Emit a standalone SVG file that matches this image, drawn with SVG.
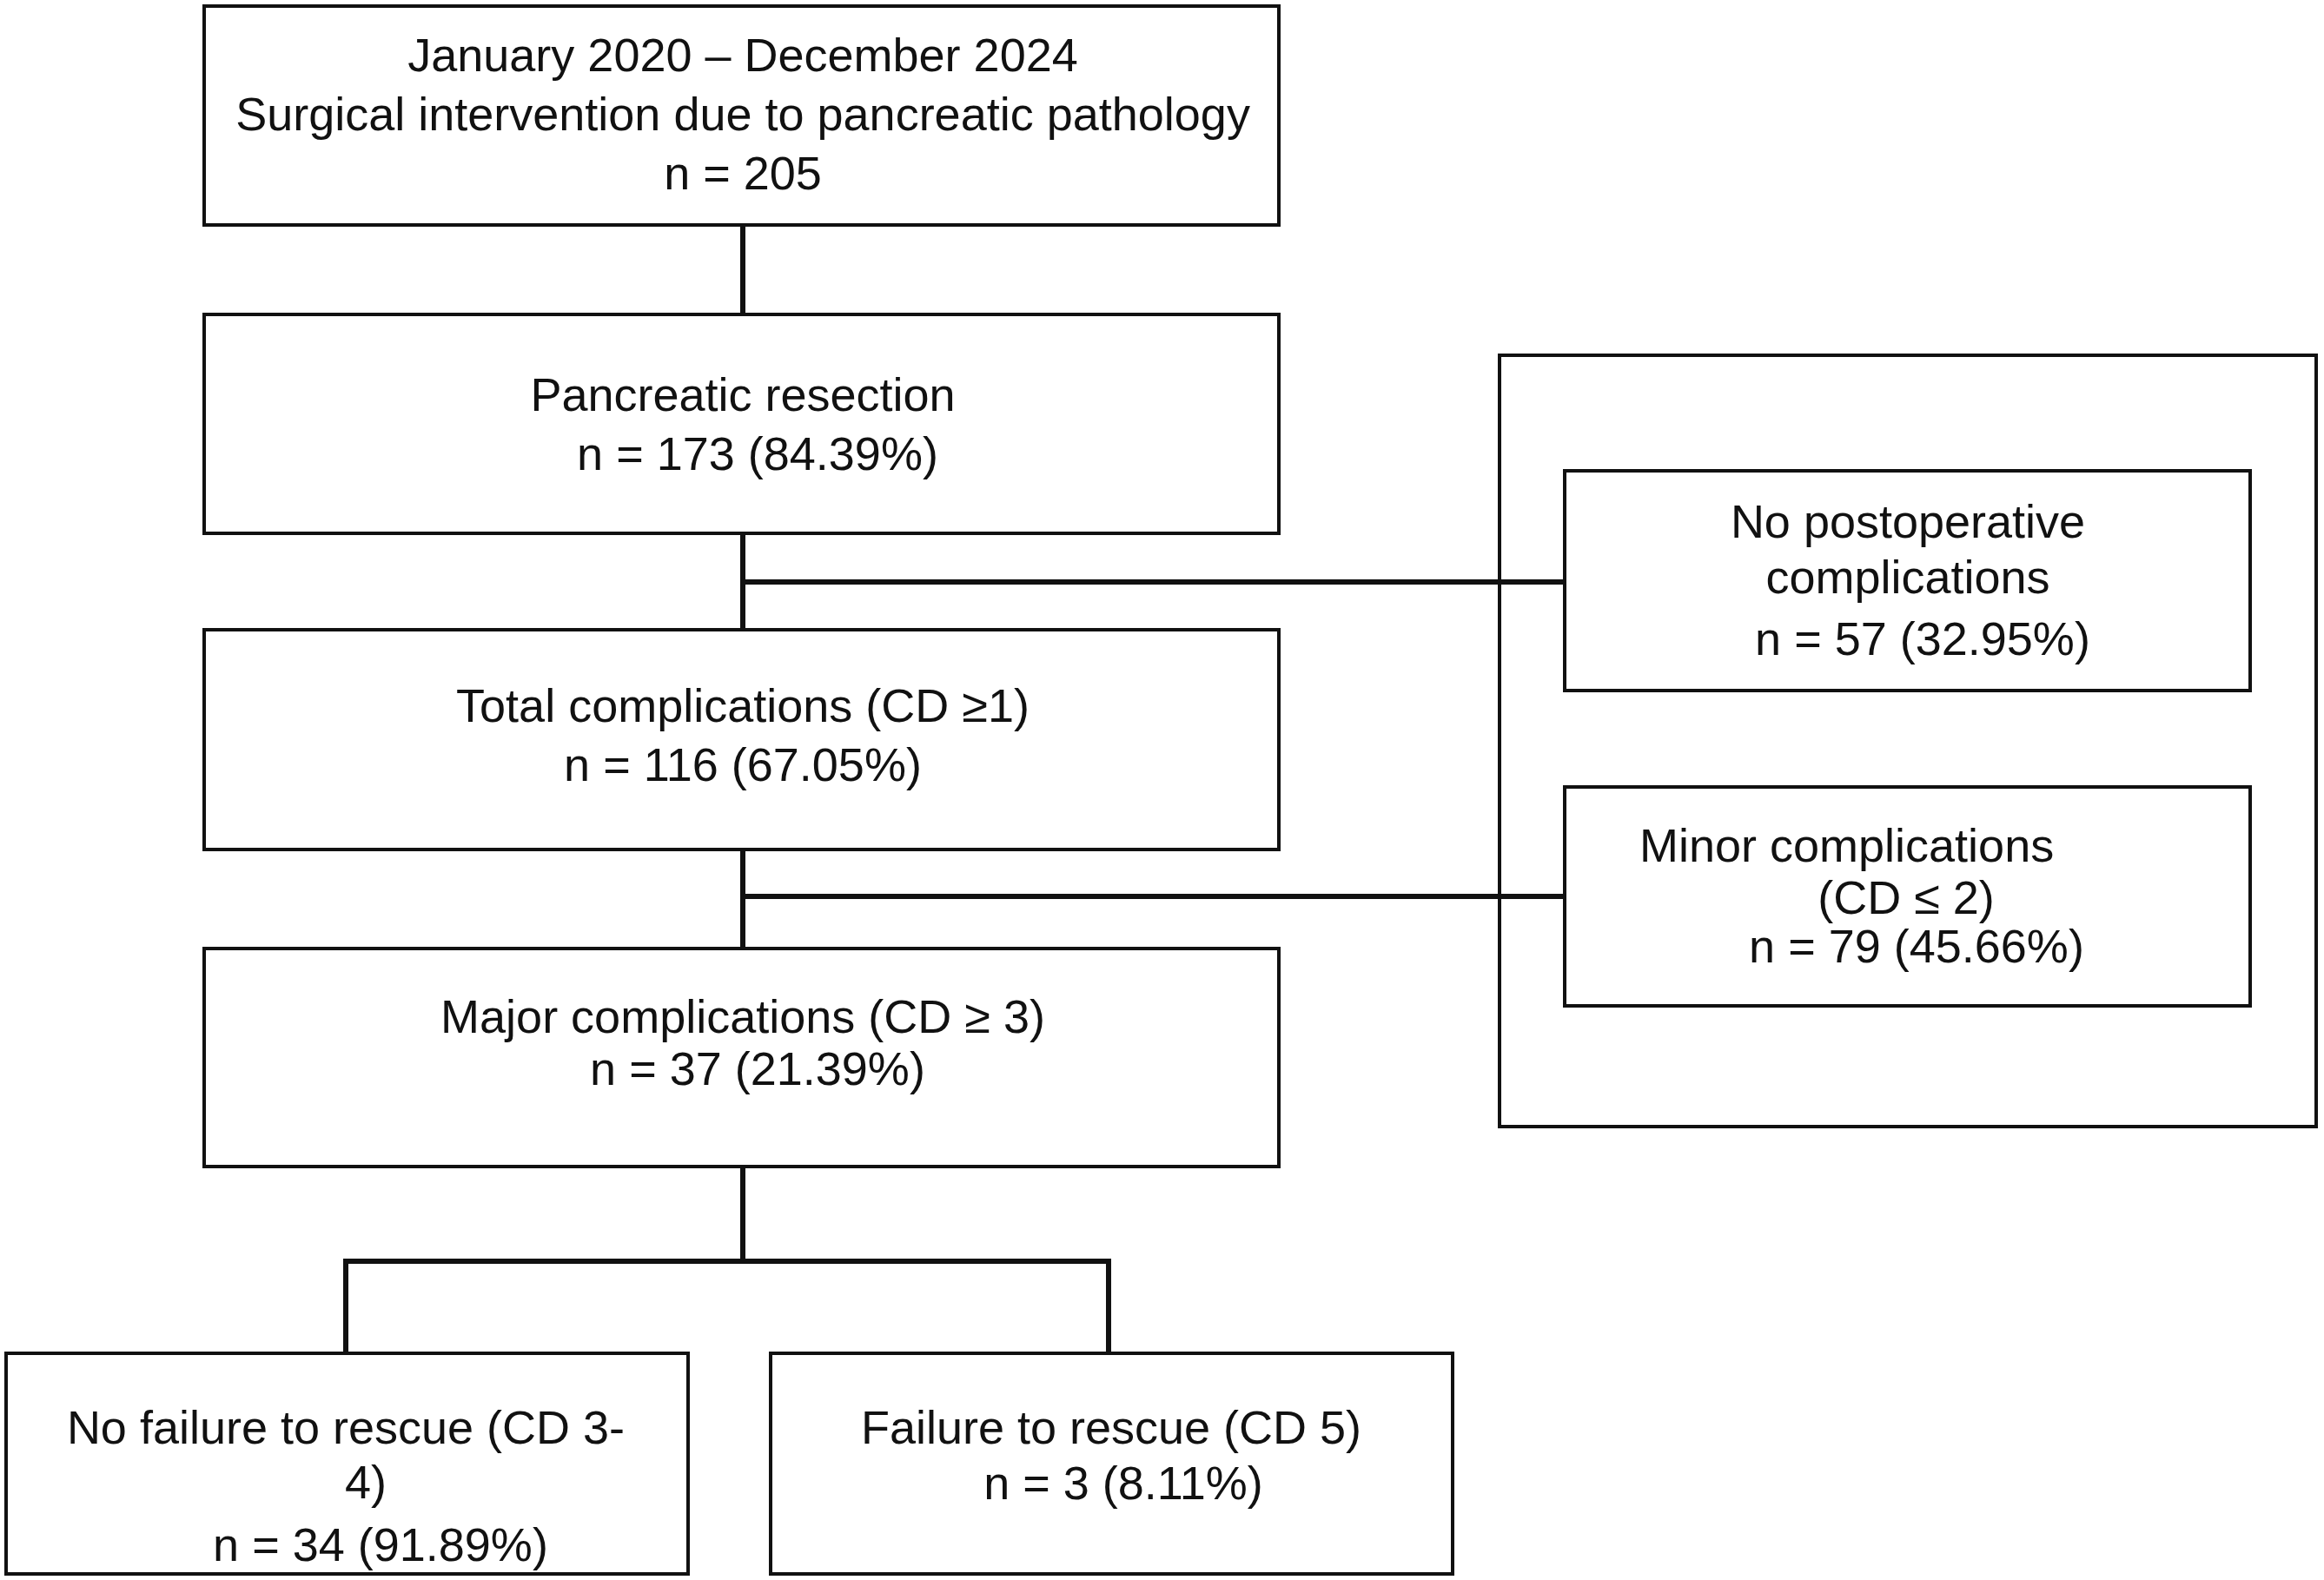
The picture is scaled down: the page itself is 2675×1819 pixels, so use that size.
<svg xmlns="http://www.w3.org/2000/svg" width="2675" height="1819" viewBox="0 0 2675 1819">
<style>
.b{fill:#fff;stroke:#111;stroke-width:4}
.c{fill:none;stroke:#111;stroke-width:6}
text{font-family:"Liberation Sans",Arial,sans-serif;font-size:54px;fill:#111;text-anchor:middle}
text.s{text-anchor:start}
</style>
<rect width="2675" height="1819" fill="#fff"/>
<g id="outer"><rect class="b" x="1726" y="409" width="940" height="888"/></g>
<g id="connectors">
<path class="c" d="M855 259V362M855 614V725M855 670H1801M855 978V1092M855 1032H1801M855 1343V1452M398 1558V1452H1276V1558"/>
</g>
<g id="n1"><rect class="b" x="235" y="7" width="1237" height="252"/>
<text x="855" y="82">January 2020 – December 2024</text>
<text x="855" y="150">Surgical intervention due to pancreatic pathology</text>
<text x="855" y="218">n = 205</text></g>
<g id="n2"><rect class="b" x="235" y="362" width="1237" height="252"/>
<text x="855" y="473">Pancreatic resection</text>
<text x="872" y="541">n = 173 (84.39%)</text></g>
<g id="n3"><rect class="b" x="235" y="725" width="1237" height="253"/>
<text x="855" y="831">Total complications (CD ≥1)</text>
<text x="855" y="899">n = 116 (67.05%)</text></g>
<g id="n4"><rect class="b" x="235" y="1092" width="1237" height="251"/>
<text x="855" y="1189">Major complications (CD ≥ 3)</text>
<text x="872" y="1249">n = 37 (21.39%)</text></g>
<g id="n5"><rect class="b" x="7" y="1558" width="785" height="254"/>
<text x="398" y="1662">No failure to rescue (CD 3-</text>
<text class="s" x="397" y="1725">4)</text>
<text x="438" y="1797">n = 34 (91.89%)</text></g>
<g id="n6"><rect class="b" x="887" y="1558" width="785" height="254"/>
<text x="1279" y="1662">Failure to rescue (CD 5)</text>
<text x="1293" y="1726">n = 3 (8.11%)</text></g>
<g id="n7"><rect class="b" x="1801" y="542" width="789" height="253"/>
<text x="2196" y="619">No postoperative</text>
<text x="2196" y="683">complications</text>
<text x="2213" y="754">n = 57 (32.95%)</text></g>
<g id="n8"><rect class="b" x="1801" y="906" width="789" height="252"/>
<text class="s" x="1887" y="992">Minor complications</text>
<text x="2194" y="1052">(CD ≤ 2)</text>
<text x="2206" y="1108">n = 79 (45.66%)</text></g>
</svg>
